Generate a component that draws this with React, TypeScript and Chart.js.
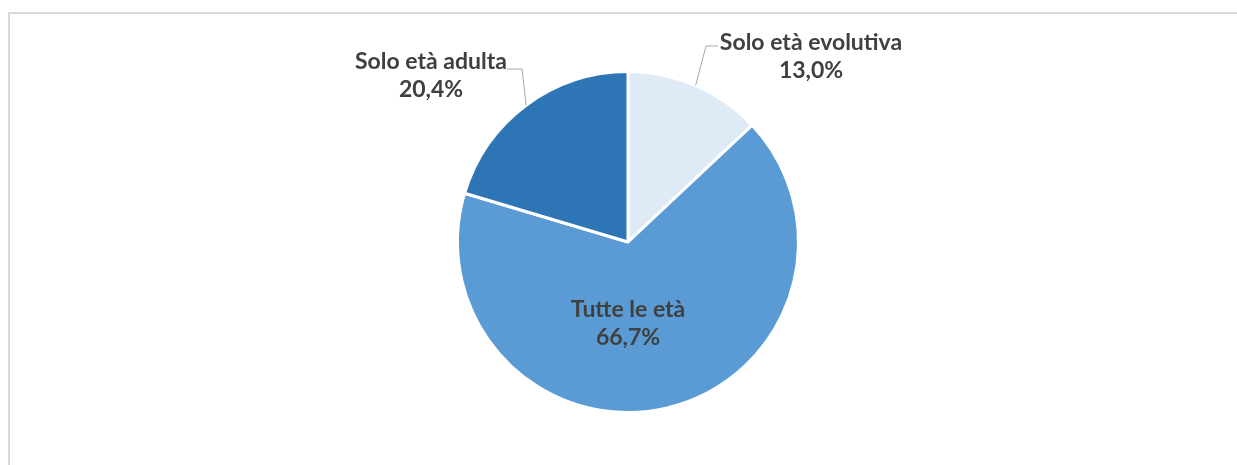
import React, { useEffect, useRef } from "react";
import { Chart, registerables } from "chart.js";

Chart.register(...registerables);

const categories = ["Solo età evolutiva", "Tutte le età", "Solo età adulta"];
const values = [13.0, 66.7, 20.4];
const valueLabels = ["13,0%", "66,7%", "20,4%"];
const colors = ["#DEEBF7", "#5B9BD5", "#2E75B6"];

// label placement relative to pie centre (px), and leader elbows
const labelPlacement = [
  { dx: 183, dy: -185, elbow: { dx: 78, dy: -196 }, end: { dx: 90, dy: -196 } },
  { dx: 0, dy: 82, elbow: null, end: null },
  { dx: -197, dy: -166, elbow: { dx: -106, dy: -173 }, end: { dx: -121, dy: -173 } },
];

const labelPlugin = {
  id: "pieLabels",
  afterDatasetsDraw(chart: any) {
    const ctx = chart.ctx;
    const meta = chart.getDatasetMeta(0);
    meta.data.forEach((arc: any, i: number) => {
      const { x, y, startAngle, endAngle, outerRadius } = arc.getProps(
        ["x", "y", "startAngle", "endAngle", "outerRadius"],
        true
      );
      const p = labelPlacement[i];
      const mid = (startAngle + endAngle) / 2;
      ctx.save();
      if (p.elbow && p.end) {
        const ax = x + Math.cos(mid) * outerRadius;
        const ay = y + Math.sin(mid) * outerRadius;
        ctx.strokeStyle = "#A6A6A6";
        ctx.lineWidth = 1;
        ctx.beginPath();
        ctx.moveTo(ax, ay);
        ctx.lineTo(x + p.elbow.dx, y + p.elbow.dy);
        ctx.lineTo(x + p.end.dx, y + p.end.dy);
        ctx.stroke();
      }
      ctx.fillStyle = "#404040";
      ctx.font = "bold 23px Lato, 'Open Sans', sans-serif";
      ctx.textAlign = "center";
      ctx.textBaseline = "middle";
      const cx = x + p.dx;
      const cy = y + p.dy;
      ctx.fillText(categories[i], cx, cy - 14);
      ctx.fillText(valueLabels[i], cx, cy + 14);
      ctx.restore();
    });
  },
};

export default function App() {
  const ref = useRef<HTMLCanvasElement | null>(null);
  useEffect(() => {
    if (!ref.current) return;
    const chart = new Chart(ref.current, {
      type: "pie",
      data: {
        labels: categories,
        datasets: [
          {
            data: values,
            backgroundColor: colors,
            borderColor: "#FFFFFF",
            borderWidth: 3,
          },
        ],
      },
      options: {
        animation: false,
        responsive: false,
        maintainAspectRatio: false,
        layout: { padding: { top: 70, bottom: 51, left: 19, right: 0 } },
        plugins: {
          legend: { display: false },
          tooltip: { enabled: false },
        },
      },
      plugins: [labelPlugin],
    });
    return () => chart.destroy();
  }, []);
  return (
    <div style={{ position: "fixed", left: 0, top: 0, width: 1237, height: 465, background: "#fff", overflow: "hidden" }}>
      <div
        style={{
          position: "absolute",
          left: 8,
          top: 12,
          width: 1300,
          height: 500,
          border: "2px solid #D9D9D9",
          boxSizing: "border-box",
        }}
      />
      <canvas ref={ref} width={1237} height={465} style={{ position: "absolute", left: 0, top: 0 }} />
    </div>
  );
}
